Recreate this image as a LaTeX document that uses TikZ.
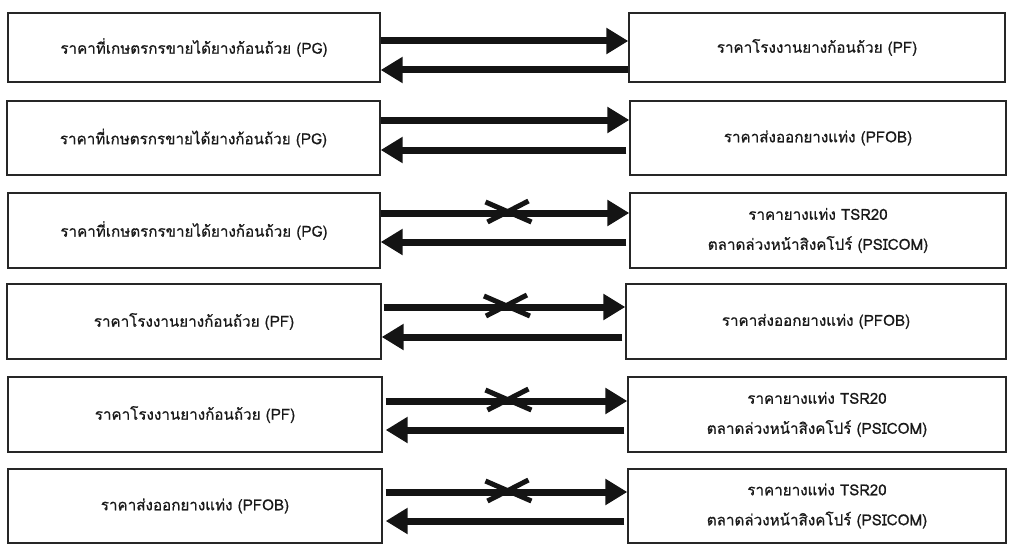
\documentclass[tikz,border=0pt]{standalone}
\usepackage{fontspec}
\setmainfont[Script=Thai,FakeBold=0.7]{Loma}
\usetikzlibrary{arrows.meta,calc}

\tikzset{
  pricebox/.style={draw=black!85, line width=1.4pt, rectangle, inner sep=0pt,
    align=center, font=\fontsize{15.2}{30}\selectfont, text=black!90},
  flow/.style={line width=7pt, draw=black!92,
    -{Triangle[length=22pt,width=25pt]}, shorten >=0pt},
  blocked/.style={line width=5pt, draw=black!92},
}

% a box given by its corners (x1,y1) and (x2,y2)
\newcommand\pbox[6]{%
  \node[pricebox, minimum width={#4-#2}, minimum height={#5-#3}]
    (#1) at ({(#2+#4)/2},{(#3+#5)/2}) {#6};}

\newcommand\tsr{ราคายางแท่ง TSR20\\ตลาดล่วงหน้าสิงคโปร์ (PSICOM)}

\begin{document}
\begin{tikzpicture}[x=1pt,y=-1pt]
\useasboundingbox[fill=white] (0,0) rectangle (1009,551);

% left column
\pbox{L1}{8}{13}{380}{82}{ราคาที่เกษตรกรขายได้ยางก้อนถ้วย (PG)}
\pbox{L2}{7}{101}{380}{175}{ราคาที่เกษตรกรขายได้ยางก้อนถ้วย (PG)}
\pbox{L3}{8}{193}{380}{268}{ราคาที่เกษตรกรขายได้ยางก้อนถ้วย (PG)}
\pbox{L4}{7}{284}{381}{359}{ราคาโรงงานยางก้อนถ้วย (PF)}
\pbox{L5}{8}{377}{382}{452}{ราคาโรงงานยางก้อนถ้วย (PF)}
\pbox{L6}{8}{469}{382}{543}{ราคาส่งออกยางแท่ง (PFOB)}

% right column
\pbox{R1}{629}{13}{1005}{82}{ราคาโรงงานยางก้อนถ้วย (PF)}
\pbox{R2}{630}{101}{1006}{175}{ราคาส่งออกยางแท่ง (PFOB)}
\pbox{R3}{630}{193}{1006}{268}{\tsr}
\pbox{R4}{626}{284}{1006}{359}{ราคาส่งออกยางแท่ง (PFOB)}
\pbox{R5}{628}{377}{1006}{452}{\tsr}
\pbox{R6}{628}{469}{1006}{543}{\tsr}

% forward (upper) and backward (lower) links of each pair
\draw[flow] (L1.east |- 0,41)  -- (R1.west |- 0,41);
\draw[flow] (R1.west |- 0,70)  -- (L1.east |- 0,70);
\draw[flow] (L2.east |- 0,120) -- (R2.west |- 0,120);
\draw[flow] ([xshift=-3pt]R2.west |- 0,150) -- (L2.east |- 0,150);
\draw[flow] (L3.east |- 0,213) -- (R3.west |- 0,213);
\draw[flow] ([xshift=-3pt]R3.west |- 0,242) -- (L3.east |- 0,242);
\draw[flow] ([xshift=2pt]L4.east |- 0,307) -- (R4.west |- 0,307);
\draw[flow] ([xshift=-3pt]R4.west |- 0,337) -- (L4.east |- 0,337);
\draw[flow] ([xshift=3pt]L5.east |- 0,401) -- (R5.west |- 0,401);
\draw[flow] ([xshift=-3pt]R5.west |- 0,430) -- ([xshift=3pt]L5.east |- 0,430);
\draw[flow] ([xshift=3pt]L6.east |- 0,492) -- (R6.west |- 0,492);
\draw[flow] ([xshift=-3pt]R6.west |- 0,521) -- ([xshift=3pt]L6.east |- 0,521);

% crosses marking the forward links that do not hold
\foreach \r/\y in {3/212,4/306,5/400,6/491}{
  \coordinate (c\r) at ($(L\r.east |- 0,\y)!0.51!(R\r.west |- 0,\y)$);
  \draw[blocked] ($(c\r)+(-22,-10)$) -- ($(c\r)+(24,10)$);
  \draw[blocked] ($(c\r)+(-20,10)$) -- ($(c\r)+(21,-11)$);
}
\end{tikzpicture}
\end{document}
